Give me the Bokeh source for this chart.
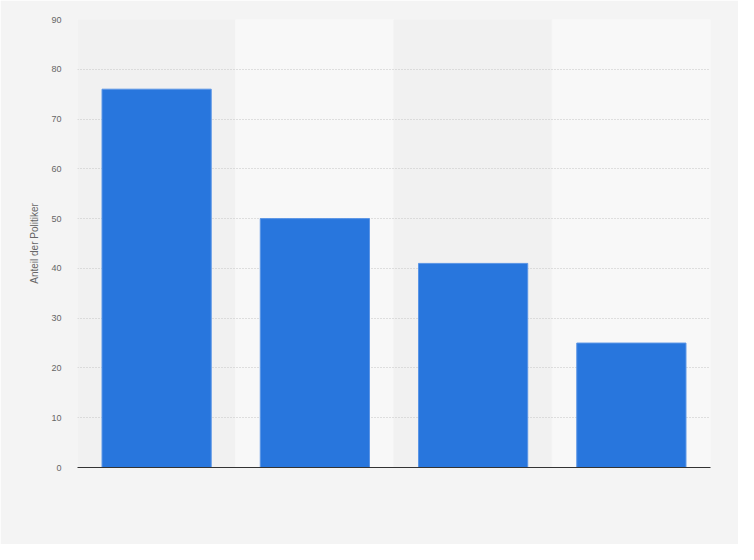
from bokeh.plotting import figure
from bokeh.models import ColumnDataSource, FixedTicker
from bokeh.embed import file_html
from bokeh.resources import INLINE

categories = ["Kategorie 1", "Kategorie 2", "Kategorie 3", "Kategorie 4"]
values = [76, 50, 41, 25]
y_ticks = [0, 10, 20, 30, 40, 50, 60, 70, 80, 90]
band_colors = ["#f1f1f1", "#f8f8f8", "#f1f1f1", "#f8f8f8"]

p = figure(
    x_range=categories, y_range=(0, 90),
    width=738, height=544,
    output_backend="svg", toolbar_location=None,
    min_border_left=77, min_border_right=28,
    min_border_top=19, min_border_bottom=77,
)
p.background_fill_color = "#f4f4f4"
p.border_fill_color = "#f4f4f4"
p.outline_line_color = None

band_src = ColumnDataSource(dict(x=categories, top=[90] * len(categories), color=band_colors))
p.vbar(x="x", top="top", bottom=0, width=1.0, color="color", source=band_src, level="underlay")

src = ColumnDataSource(dict(x=categories, top=values))
p.vbar(x="x", top="top", bottom=0, width=0.69, source=src,
       fill_color="#2876dd", line_color="#5a95e6", line_width=1)

p.xgrid.grid_line_color = None
p.ygrid.grid_line_color = "#c4c4c4"
p.ygrid.grid_line_dash = "1 2"
p.ygrid.ticker = FixedTicker(ticks=y_ticks)

p.yaxis.ticker = FixedTicker(ticks=y_ticks)
p.yaxis.axis_line_color = None
p.yaxis.major_tick_line_color = None
p.yaxis.major_tick_out = 0
p.yaxis.major_tick_in = 0
p.yaxis.minor_tick_line_color = None
p.yaxis.major_label_text_font = "Liberation Sans"
p.yaxis.major_label_text_font_size = "9px"
p.yaxis.major_label_text_color = "#666666"
p.yaxis.major_label_standoff = 16
p.yaxis.axis_label = "Anteil der Politiker"
p.yaxis.axis_label_text_font = "Liberation Sans"
p.yaxis.axis_label_text_font_style = "normal"
p.yaxis.axis_label_text_font_size = "10px"
p.yaxis.axis_label_text_color = "#666666"
p.yaxis.axis_label_standoff = 8

p.xaxis.axis_line_color = "#333333"
p.xaxis.axis_line_width = 1.2
p.xaxis.major_tick_line_color = None
p.xaxis.major_tick_out = 0
p.xaxis.minor_tick_line_color = None
p.xaxis.major_label_text_color = None
p.xaxis.major_label_text_font_size = "9px"

open("out.html", "w").write(file_html(p, INLINE))
